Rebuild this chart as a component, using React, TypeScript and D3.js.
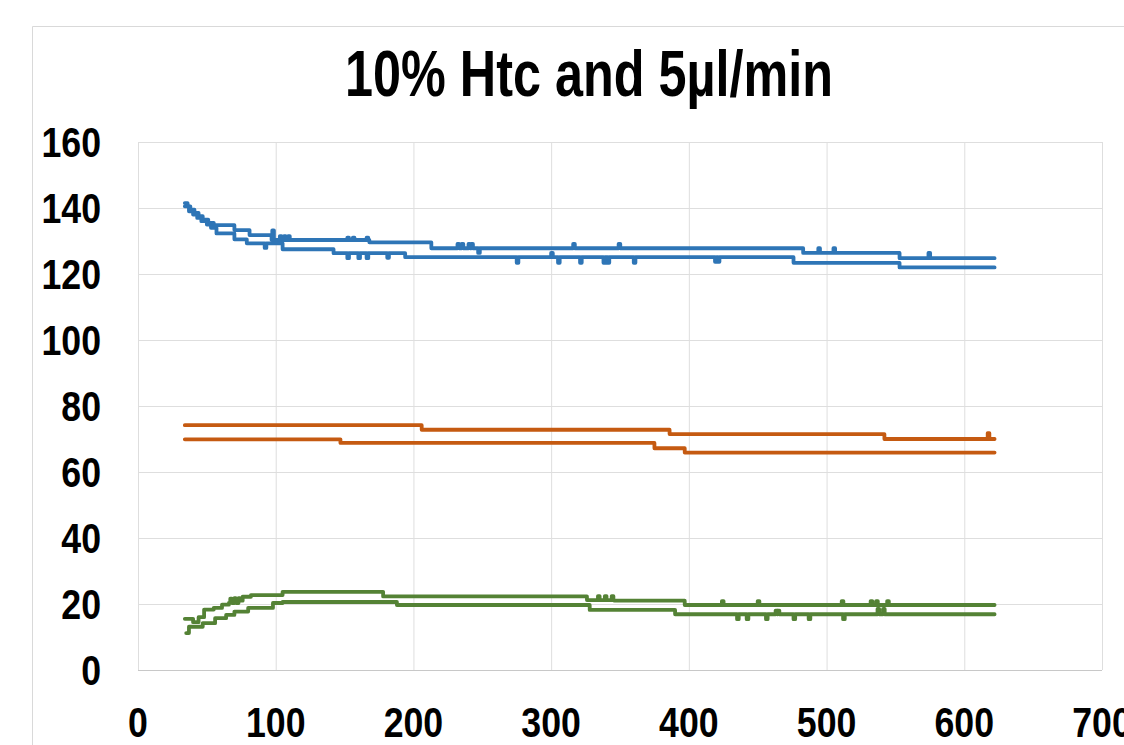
import React from 'react';
import * as d3 from 'd3';

// step series: [time, value] pairs, each value holds until the next pair
const blueUpperSteps: [number, number][] = [
  [34, 141.5], [36, 140.5], [38, 139.5], [41, 138.5], [44, 137.5], [47, 136.5], [51, 135.5],
  [55, 134.8], [70, 133.3], [81, 131.8], [97, 130.3], [168, 129.6], [213, 127.8],
  [483, 126.4], [553, 124.8],
];
const blueUpperSpikes: [number, number][] = [
  [97.5, 133.2], [103, 131.5], [106, 131.5], [109, 131.5], [152, 131], [156, 131], [166, 131],
  [232, 129.1], [235, 129.1], [240, 129.1], [242, 129.1], [247, 126.4], [316, 129.1],
  [349, 129.1], [494, 127.8], [505, 127.8], [574, 126.4],
];
const blueLowerSteps: [number, number][] = [
  [34, 140.5], [37, 139], [40, 138], [43, 137], [46, 136], [50, 135], [53, 134],
  [57, 132.3], [70, 130.5], [79, 129.3], [105, 127.5], [142, 126.3], [194, 125.1],
  [476, 123.4], [553, 122],
];
const blueLowerSpikes: [number, number][] = [
  [92, 127.9], [152, 124.8], [160, 124.8], [166, 124.8], [181, 124.9], [275, 123.4],
  [300, 126.4], [305, 123.4], [321, 123.4], [338, 123.4], [341, 123.4], [360, 123.4],
  [419, 123.7], [421, 123.7],
];
const orangeUpperSteps: [number, number][] = [[34, 74.2], [206, 72.8], [386, 71.5], [542, 70]];
const orangeUpperSpikes: [number, number][] = [[617, 71.8]];
const orangeLowerSteps: [number, number][] = [[34, 69.9], [147, 68.8], [375, 67.2], [397, 65.9]];
const orangeLowerSpikes: [number, number][] = [];
const greenUpperSteps: [number, number][] = [
  [34, 15.5], [40, 14.5], [44, 16], [48, 18.3], [55, 18.8], [61, 19.8], [66, 20.3], [71, 21],
  [76, 22.2], [82, 22.7], [105, 23.7], [178, 22.3], [326, 21.2], [346, 21], [397, 19.7],
];
const greenUpperSpikes: [number, number][] = [
  [67, 21.6], [70, 21.8], [73, 21.8], [334, 22.4], [339, 22.4], [344, 22.4], [424, 20.9],
  [450, 20.9], [511, 20.9], [532, 20.9], [536, 20.9], [544, 20.9],
];
const greenLowerSteps: [number, number][] = [
  [35, 11.2], [37, 13.1], [47, 14.2], [56, 15.7], [64, 16.7], [70, 17.7], [80, 18.8],
  [98, 20.3], [105, 20.6], [188, 19.7], [328, 18.2], [390, 16.9],
];
const greenLowerSpikes: [number, number][] = [
  [435, 15.4], [442, 15.4], [456, 15.4], [463, 18], [464.5, 18], [476, 15.4], [487, 15.4],
  [512, 15.4], [537, 18.5], [541, 18.5],
];
const endTime = 622;

const xTicks = [0, 100, 200, 300, 400, 500, 600, 700];
const yTicks = [0, 20, 40, 60, 80, 100, 120, 140, 160];

const BLUE = '#2e75b6';
const ORANGE = '#c55a11';
const GREEN = '#548235';

const series = [
  { steps: blueUpperSteps, spikes: blueUpperSpikes, color: BLUE },
  { steps: blueLowerSteps, spikes: blueLowerSpikes, color: BLUE },
  { steps: orangeUpperSteps, spikes: orangeUpperSpikes, color: ORANGE },
  { steps: orangeLowerSteps, spikes: orangeLowerSpikes, color: ORANGE },
  { steps: greenUpperSteps, spikes: greenUpperSpikes, color: GREEN },
  { steps: greenLowerSteps, spikes: greenLowerSpikes, color: GREEN },
];

function buildPoints(steps: [number, number][], spikes: [number, number][]) {
  const valueAt = (t: number) => {
    let v = steps[0][1];
    for (const s of steps) if (s[0] <= t) v = s[1];
    return v;
  };
  const pts: [number, number][] = [...steps];
  spikes.forEach(([t, v]) => {
    pts.push([t, v]);
    pts.push([t + 1.2, valueAt(t)]);
  });
  pts.push([endTime, steps[steps.length - 1][1]]);
  return pts.sort((a, b) => a[0] - b[0]);
}

export default function App() {
  const x = d3.scaleLinear().domain([0, 700]).range([138, 1102]);
  const y = d3.scaleLinear().domain([0, 160]).range([670, 142]);
  const line = d3
    .line<[number, number]>()
    .x((d) => x(d[0]))
    .y((d) => y(d[1]))
    .curve(d3.curveStepAfter);

  const font = "'Liberation Sans', Arial, sans-serif";

  return (
    <svg
      width={1124}
      height={745}
      style={{ position: 'absolute', left: 0, top: 0, background: '#fff' }}
    >
      <rect x={0} y={0} width={1124} height={745} fill="#fff" />
      <path d="M32.5,745 V26.5 H1124" fill="none" stroke="#d9d9d9" strokeWidth={1} />

      <text
        x={589}
        y={96}
        textAnchor="middle"
        fontFamily={font}
        fontWeight="bold"
        fontSize={65}
        textLength={488}
        lengthAdjust="spacingAndGlyphs"
        fill="#000"
      >
        10% Htc and 5µl/min
      </text>

      {yTicks.map((t) => (
        <line key={'gy' + t} x1={138} x2={1102} y1={y(t) + 0.5} y2={y(t) + 0.5}
          stroke={t === 0 ? '#c8c8c8' : '#dedede'} strokeWidth={1} />
      ))}
      {xTicks.map((t) => (
        <line key={'gx' + t} x1={x(t) + 0.5} x2={x(t) + 0.5} y1={142} y2={670}
          stroke="#dedede" strokeWidth={1} />
      ))}

      {yTicks.map((t) => (
        <text key={'ly' + t} transform={`translate(101,${y(t) + 15}) scale(0.85,1)`}
          textAnchor="end" fontFamily={font} fontWeight="bold" fontSize={42} fill="#000">
          {t}
        </text>
      ))}
      {xTicks.map((t) => (
        <text key={'lx' + t} transform={`translate(${x(t)},737) scale(0.85,1)`}
          textAnchor="middle" fontFamily={font} fontWeight="bold" fontSize={42} fill="#000">
          {t}
        </text>
      ))}

      {series.map((s, i) => (
        <path key={'s' + i} d={line(buildPoints(s.steps, s.spikes)) || ''} fill="none"
          stroke={s.color} strokeWidth={3.8} strokeLinejoin="round" strokeLinecap="round" />
      ))}
    </svg>
  );
}
